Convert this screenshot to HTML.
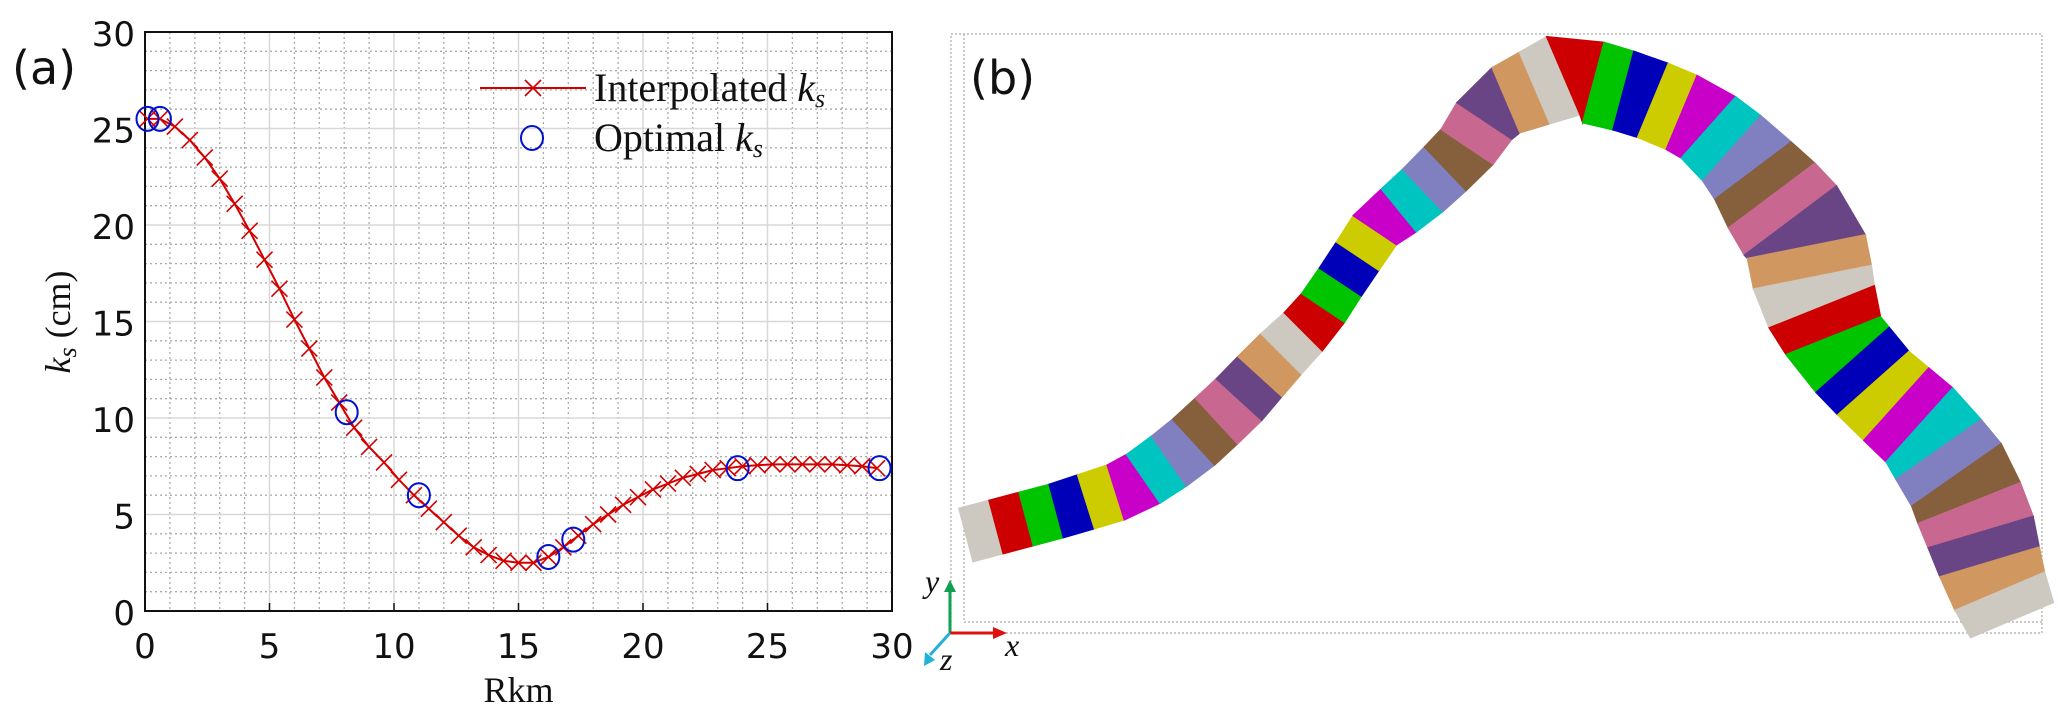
<!DOCTYPE html>
<html><head><meta charset="utf-8">
<style>
html,body{margin:0;padding:0;background:#fff;}
svg{display:block;}
.tk{font-family:"DejaVu Sans","Liberation Sans",sans-serif;font-size:34px;fill:#111;}
.sf{font-family:"Liberation Serif",serif;fill:#111;}
</style></head>
<body>
<svg id="fig" width="2067" height="717" viewBox="0 0 2067 717" xmlns="http://www.w3.org/2000/svg">
<g id="pa"></g>
<g id="pb"></g>
</svg>
<script>
// ---- Panel (a) data ----
const xTicks = [0,5,10,15,20,25,30];
const yTicks = [0,5,10,15,20,25,30];
const interpX = [0.1,0.6,1.2,1.8,2.4,3.0,3.6,4.2,4.8,5.4,6.0,6.6,7.2,7.8,8.4,9.0,9.6,10.2,10.8,11.4,12.0,12.6,13.2,13.8,14.4,15.0,15.6,16.2,16.8,17.4,18.0,18.6,19.2,19.8,20.4,21.0,21.6,22.2,22.8,23.4,24.0,24.6,25.2,25.8,26.4,27.0,27.6,28.2,28.8,29.4];
const interpY = [25.5,25.5,25.1,24.4,23.5,22.4,21.1,19.7,18.2,16.7,15.1,13.6,12.1,10.8,9.5,8.5,7.7,6.8,6.0,5.3,4.6,3.9,3.3,2.9,2.6,2.5,2.5,2.8,3.3,3.9,4.5,5.0,5.5,5.9,6.3,6.6,6.9,7.1,7.3,7.4,7.5,7.55,7.6,7.6,7.6,7.6,7.6,7.55,7.5,7.4];
const optX = [0.1,0.6,8.1,11.0,16.2,17.2,23.8,29.5];
const optY = [25.5,25.5,10.3,6.0,2.8,3.7,7.4,7.4];

const NS='http://www.w3.org/2000/svg';
function mk(parent,tag,attrs,txt){const e=document.createElementNS(NS,tag);for(const k in attrs)e.setAttribute(k,attrs[k]);if(txt!==undefined)e.textContent=txt;parent.appendChild(e);return e;}
const L=145,R=892,T=32,B=611;
const sx=v=>L+(v-0)/(30-0)*(R-L);
const sy=v=>B-(v-0)/(30-0)*(B-T);
const pa=document.getElementById('pa');

for(let v=1;v<30;v++){
  if(v%5===0)continue;
  let g=mk(pa,'line',{x1:sx(v),x2:sx(v),y1:T,y2:B,stroke:'#aaa','stroke-width':1.3,'stroke-dasharray':'2,3'});
  
  
  g=mk(pa,'line',{x1:L,x2:R,y1:sy(v),y2:sy(v),stroke:'#aaa','stroke-width':1.3,'stroke-dasharray':'2,3'});
  
  
}
xTicks.forEach(v=>{
  if(v>0&&v<30){const g=mk(pa,'line',{x1:sx(v),x2:sx(v),y1:T,y2:B,stroke:'#d8d8d8','stroke-width':1.5});
  
  }
  const t=mk(pa,'text',{x:sx(v),y:B+47,'text-anchor':'middle',class:'tk'},String(v));
  
  
  const tk=mk(pa,'line',{x1:sx(v),x2:sx(v),y1:B,y2:B-8,stroke:'#111','stroke-width':1.5});
  
  
});
yTicks.forEach(v=>{
  if(v>0&&v<30){const g=mk(pa,'line',{x1:L,x2:R,y1:sy(v),y2:sy(v),stroke:'#d8d8d8','stroke-width':1.5});
  
  }
  const t=mk(pa,'text',{x:L-10,y:sy(v)+14,'text-anchor':'end',class:'tk'},String(v));
  
  
});
let fr=mk(pa,'rect',{x:L,y:T,width:R-L,height:B-T,fill:'none',stroke:'#111','stroke-width':2});



let pl=mk(pa,'polyline',{points:interpX.map((x,i)=>sx(x)+','+sy(interpY[i])).join(' '),fill:'none',stroke:'#d40000','stroke-width':2});


function cross(g,cx,cy,s){mk(g,'path',{d:`M${cx-s},${cy-s}L${cx+s},${cy+s}M${cx-s},${cy+s}L${cx+s},${cy-s}`,stroke:'#d40000','stroke-width':1.6,fill:'none'});}
interpX.forEach((x,i)=>{
  const g=mk(pa,'g',{});
  
  
  cross(g,sx(x),sy(interpY[i]),8);
});
optX.forEach((x,i)=>{
  const c=mk(pa,'ellipse',{cx:sx(x),cy:sy(optY[i]),rx:11,ry:12,fill:'none',stroke:'#0010d0','stroke-width':2});
  
  
});

const lg=mk(pa,'g',{});


mk(lg,'line',{x1:480,x2:586,y1:88,y2:88,stroke:'#d40000','stroke-width':2});
cross(lg,533,88,8);
let lt=mk(lg,'text',{x:594,y:101,class:'sf','font-size':40},'Interpolated ');
lt.appendChild(mk(lg,'tspan',{'font-style':'italic'},'k'));
lt.appendChild(mk(lg,'tspan',{'font-style':'italic','font-size':26,dy:6},'s'));


mk(lg,'ellipse',{cx:532,cy:138,rx:11,ry:12,fill:'none',stroke:'#0010d0','stroke-width':2});
let lt2=mk(lg,'text',{x:594,y:151,class:'sf','font-size':40},'Optimal ');
lt2.appendChild(mk(lg,'tspan',{'font-style':'italic'},'k'));
lt2.appendChild(mk(lg,'tspan',{'font-style':'italic','font-size':26,dy:6},'s'));



let xl=mk(pa,'text',{x:(L+R)/2,y:702,'text-anchor':'middle',class:'sf','font-size':36},'Rkm');


let yl=mk(pa,'text',{transform:'translate(70,322) rotate(-90)','text-anchor':'middle',class:'sf','font-size':36});
yl.appendChild(mk(pa,'tspan',{'font-style':'italic'},'k'));
yl.appendChild(mk(pa,'tspan',{'font-style':'italic','font-size':26,dy:6},'s'));
yl.appendChild(mk(pa,'tspan',{dy:-6},'  (cm)'));


let la=mk(pa,'text',{x:12,y:84,'font-family':'DejaVu Sans, sans-serif','font-size':46,fill:'#111'},'(a)');



// ---- Panel (b) ----
const pb=document.getElementById('pb');
let f1=mk(pb,'rect',{x:951,y:34,width:1091,height:599,fill:'none',stroke:'#aaa','stroke-width':1.2,'stroke-dasharray':'2,2'});


let f2=mk(pb,'path',{d:'M964,34 V622 H2042',fill:'none',stroke:'#aaa','stroke-width':1.2,'stroke-dasharray':'2,2'});


const center=[[966,535,55],[1060,510,55],[1130,488,58],[1185,450,62],[1235,404,62],[1275,360,58],[1315,320,52],[1345,275,50],[1375,230,52],[1420,193,58],[1465,150,62],[1495,105,68],[1565,75,85],[1640,95,80],[1700,120,80],[1745,160,90],[1775,200,110],[1805,240,120],[1815,290,120],[1835,340,100],[1875,385,95],[1925,430,100],[1960,480,110],[1980,530,110],[1995,580,100],[2012,620,90]];
const colors=['#cdc8c0','#cc0000','#00c400','#0000b8','#cccc00','#c800c8','#00c4c0','#8080c0','#86603c','#c86890','#6a4585','#d09860'];
let cum=[0];for(let i=1;i<center.length;i++){cum.push(cum[i-1]+Math.hypot(center[i][0]-center[i-1][0],center[i][1]-center[i-1][1]));}
const total=cum[cum.length-1];
function at(s){let i=1;while(i<cum.length-1&&cum[i]<s)i++;const t=Math.min(1,Math.max(0,(s-cum[i-1])/(cum[i]-cum[i-1])));const a=center[i-1],b=center[i];
  const dx=b[0]-a[0],dy=b[1]-a[1],l=Math.hypot(dx,dy);
  return {x:a[0]+dx*t,y:a[1]+dy*t,w:a[2]+(b[2]-a[2])*t,nx:-dy/l,ny:dx/l};}
const N=49;
for(let k=0;k<N;k++){
  const s0=total*k/N,s1=total*(k+1)/N;
  const A=at(s0),Bp=at(s1);
  const pts=[[A.x+A.nx*A.w/2,A.y+A.ny*A.w/2],[Bp.x+Bp.nx*Bp.w/2,Bp.y+Bp.ny*Bp.w/2],[Bp.x-Bp.nx*Bp.w/2,Bp.y-Bp.ny*Bp.w/2],[A.x-A.nx*A.w/2,A.y-A.ny*A.w/2]];
  const c=colors[k%12];
  const poly=mk(pb,'polygon',{points:pts.map(q=>q[0].toFixed(1)+','+q[1].toFixed(1)).join(' '),fill:c,stroke:c,'stroke-width':1.5});
  
  
}
let lb=mk(pb,'text',{x:970,y:94,'font-family':'DejaVu Sans, sans-serif','font-size':46,fill:'#111'},'(b)');


const tr=mk(pb,'g',{});


mk(tr,'line',{x1:950,y1:633,x2:950,y2:590,stroke:'#12a050','stroke-width':3});
mk(tr,'polygon',{points:'944,592 956,592 950,580',fill:'#12a050'});
mk(tr,'line',{x1:950,y1:633,x2:995,y2:633,stroke:'#e01010','stroke-width':3});
mk(tr,'polygon',{points:'993,627 993,639 1007,633',fill:'#e01010'});
mk(tr,'line',{x1:950,y1:633,x2:930,y2:655,stroke:'#20b0d8','stroke-width':3});
mk(tr,'polygon',{points:'925,652 935,660 924,666',fill:'#20b0d8'});
mk(tr,'text',{x:925,y:592,class:'sf','font-size':32,'font-style':'italic'},'y');
mk(tr,'text',{x:1005,y:656,class:'sf','font-size':32,'font-style':'italic'},'x');
mk(tr,'text',{x:940,y:670,class:'sf','font-size':32,'font-style':'italic'},'z');
</script>
</body></html>
